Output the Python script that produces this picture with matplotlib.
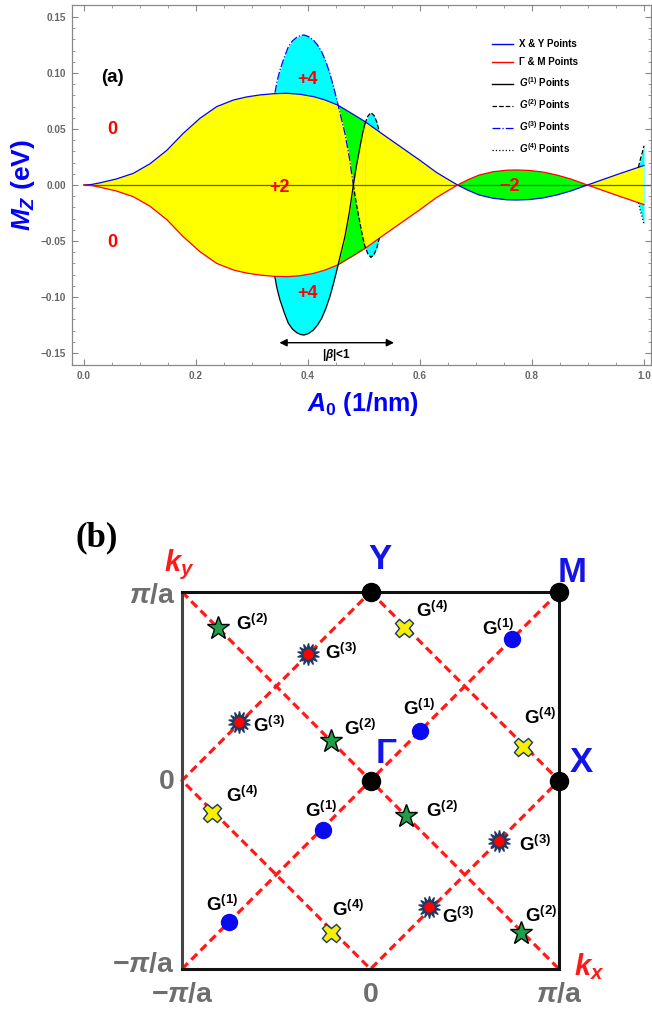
import matplotlib
matplotlib.use('Agg')
import matplotlib.pyplot as plt
import numpy as np
from matplotlib.lines import Line2D

plt.rcParams['font.family'] = ['Liberation Sans', 'DejaVu Sans']
plt.rcParams['font.weight'] = 'bold'
plt.rcParams['axes.labelweight'] = 'bold'
plt.rcParams['mathtext.fontset'] = 'custom'
plt.rcParams['mathtext.rm'] = 'Liberation Sans:bold'
plt.rcParams['mathtext.it'] = 'Liberation Sans:bold:italic'
plt.rcParams['mathtext.bf'] = 'Liberation Sans:bold'

# ---------- panel (a) data ----------
a0 = np.array([0.0, 0.014, 0.029, 0.058, 0.088, 0.118, 0.148, 0.177, 0.207, 0.237, 0.267,
               0.29, 0.314, 0.338, 0.362, 0.386, 0.41, 0.43, 0.453, 0.481, 0.5018, 0.54,
               0.6, 0.63, 0.667, 0.685, 0.705, 0.73, 0.755, 0.773, 0.795, 0.82, 0.845,
               0.87, 0.899, 0.95, 1.0])
m_xy = np.array([0.0, 0.0005, 0.002, 0.0054, 0.0104, 0.019, 0.031, 0.046, 0.0595, 0.070, 0.0759,
                 0.0786, 0.0804, 0.0815, 0.0819, 0.0810, 0.0789, 0.076, 0.0714, 0.063, 0.0566, 0.043,
                 0.022, 0.011, 0.0, -0.0045, -0.0088, -0.0118, -0.0132, -0.0134, -0.013, -0.0115, -0.0088,
                 -0.0052, 0.0, 0.009, 0.0175])
m_gm = np.array([0.0, -0.0005, -0.002, -0.0054, -0.0104, -0.019, -0.031, -0.046, -0.0595, -0.070, -0.0759,
                 -0.0786, -0.0804, -0.0815, -0.0819, -0.0810, -0.0789, -0.076, -0.0714, -0.063, -0.0566, -0.043,
                 -0.022, -0.011, 0.0, 0.0045, 0.0088, 0.0118, 0.0132, 0.0134, 0.013, 0.0115, 0.0088,
                 0.0052, 0.0, -0.009, -0.0175])

# G-point gap closing curves (|beta|<1 window)
a_g = np.array([0.341, 0.3445, 0.350, 0.358, 0.365, 0.372, 0.380, 0.387, 0.393, 0.401, 0.4095,
                0.417, 0.4244, 0.432, 0.439, 0.446, 0.453, 0.466, 0.474, 0.481, 0.4865,
                0.4929, 0.4975, 0.5018, 0.507, 0.5125, 0.518, 0.5226, 0.5273])
m_g3 = np.array([0.0824, 0.092, 0.1027, 0.1145, 0.1235, 0.1285, 0.1319, 0.1335, 0.1339, 0.1325, 0.1295,
                 0.125, 0.119, 0.110, 0.0997, 0.087, 0.0729, 0.046, 0.024, 0.0, -0.017,
                 -0.0342, -0.046, -0.055, -0.0615, -0.0646, -0.062, -0.0566, -0.0476])
m_g1 = np.array([-0.0824, -0.092, -0.1027, -0.1145, -0.1235, -0.1285, -0.1319, -0.1335, -0.1339, -0.1325, -0.1295,
                 -0.125, -0.119, -0.110, -0.0997, -0.087, -0.0729, -0.046, -0.024, 0.0, 0.017,
                 0.0342, 0.046, 0.055, 0.0615, 0.0646, 0.062, 0.0566, 0.0476])

# curves just appearing at the right edge
a_e = np.array([0.990, 0.994, 0.997, 1.0])
m_e_up = np.array([0.0158, 0.024, 0.029, 0.035])
m_e_dn = np.array([-0.0158, -0.024, -0.029, -0.035])

chern_text = ['0', '0', '+2', '+4', '+4', '\u22122']
chern_a = [0.05, 0.05, 0.35, 0.40, 0.40, 0.759]
chern_m = [0.0494, -0.0513, -0.0018, 0.0938, -0.0966, -0.001]

beta_from, beta_to = 0.349, 0.5536

xticks = [0.0, 0.2, 0.4, 0.6, 0.8, 1.0]
xticklabels = ['0.0', '0.2', '0.4', '0.6', '0.8', '1.0']
yticks = [-0.15, -0.10, -0.05, 0.0, 0.05, 0.10, 0.15]
yticklabels = ['\u22120.15', '\u22120.10', '\u22120.05', '0.00', '0.05', '0.10', '0.15']

# ---------- panel (b) data ----------
sym_x = [0, 1, 1, 0]
sym_y = [1, 1, 0, 0]
sym_names = ['Y', 'M', 'X', '\u0393']
g1_x = [0.75, 0.26, -0.25, -0.75]
g1_y = [0.75, 0.26, -0.26, -0.75]
g2_x = [-0.81, -0.21, 0.19, 0.80]
g2_y = [0.81, 0.21, -0.19, -0.81]
g3_x = [-0.33, -0.70, 0.68, 0.31]
g3_y = [0.67, 0.31, -0.32, -0.67]
g4_x = [0.18, 0.81, -0.84, -0.21]
g4_y = [0.81, 0.18, -0.17, -0.81]
diag1_x, diag1_y = [-1, 1], [-1, 1]
diag2_x, diag2_y = [-1, 1], [1, -1]
diamond_x = [0, 1, 0, -1, 0]
diamond_y = [1, 0, -1, 0, 1]
k_ticks = [-1, 0, 1]
k_labels = ['\u2212$\\pi$/a', '0', '$\\pi$/a']

# label anchors (left edge of G, centre of G)
g1_lab = [(0.593, 0.807), (0.175, 0.381), (-0.345, -0.16), (-0.875, -0.656)]
g2_lab = [(-0.712, 0.833), (-0.143, 0.275), (0.292, -0.16), (0.817, -0.718)]
g3_lab = [(-0.242, 0.682), (-0.621, 0.293), (0.79, -0.337), (0.38, -0.723)]
g4_lab = [(0.239, 0.904), (0.812, 0.337), (-0.766, -0.08), (-0.203, -0.682)]
sym_lab = [(0.053, 1.17), (1.072, 1.106), (1.119, 0.096), (0.08, 0.144)]

W, H = 652, 1009
fig = plt.figure(figsize=(W / 100, H / 100), dpi=100)

# ================= panel (a) =================
ax = fig.add_axes([72 / W, 1 - 365 / H, (651 - 72) / W, 360 / H])
yellow, cyan, green = '#FFFF00', '#00FFFF', '#00FF00'

ax.fill_between(a_g, m_g1, m_g3, color=cyan, lw=0, zorder=1)
ax.fill_between(a_e, m_e_dn, m_e_up, color=cyan, lw=0, zorder=1)
ax.fill_between(a0, m_gm, m_xy, where=m_xy >= m_gm, interpolate=True, color=yellow, lw=0, zorder=1.1)
ax.fill_between(a0, m_gm, m_xy, where=m_gm >= m_xy, interpolate=True, color=green, lw=0, zorder=1.1)
lens = (a0 >= 0.453) & (a0 <= 0.5018)
ax.fill_between(a0, m_gm, m_xy, where=lens, color=green, lw=0, zorder=1.2)
lens_g = (a_g >= 0.453) & (a_g <= 0.5018)
ax.fill_between(a_g, m_g1, m_g3, where=lens_g, color=yellow, ec=yellow, lw=0.4, zorder=1.3)

ax.hlines(0, 0, 1.0125, color='#555555', lw=0.9, zorder=2)

ax.plot(a0, m_xy, color='#0000FF', lw=0.9, zorder=3)
ax.plot(a0, m_gm, color='#FF0000', lw=0.9, zorder=3)
# G curves
k0 = 19  # zero crossing index
k1 = 23  # where G1 meets X&Y curve
ax.plot(a_g[:k0 + 1], m_g3[:k0 + 1], color='#0000FF', lw=0.9, ls='-.', zorder=3.2)
ax.plot(a_g[k0:], m_g3[k0:], color='black', lw=0.9, ls='--', zorder=3.2)
ax.plot(a_g[:k1 + 1], m_g1[:k1 + 1], color='black', lw=0.9, zorder=3.2)
ax.plot(a_g[k1:], m_g1[k1:], color='black', lw=0.9, ls='--', zorder=3.2)
ax.plot(a_e, m_e_up, color='black', lw=0.9, ls='--', zorder=3.2)
ax.plot(a_e, m_e_dn, color='black', lw=0.9, ls=':', zorder=3.2)

for t, x, y in zip(chern_text, chern_a, chern_m):
    ax.text(x, y, t, color='#FF0000', fontsize=13, ha='center', va='center', zorder=4)
ax.text(0.05, 0.0964, '(a)', color='black', fontsize=13.5, ha='center', va='center')

ax.annotate('', xy=(beta_from, -0.1408), xytext=(beta_to, -0.1408),
            arrowprops=dict(arrowstyle='<|-|>', color='black', lw=1.0, mutation_scale=11,
                            shrinkA=0, shrinkB=0))
ax.text((beta_from + beta_to) / 2, -0.152, r'$|\beta|$<1', fontsize=8.5,
        ha='center', va='center')

handles = [Line2D([], [], color='#0000FF', lw=1),
           Line2D([], [], color='#FF0000', lw=1),
           Line2D([], [], color='black', lw=1),
           Line2D([], [], color='black', lw=0.9, ls='--'),
           Line2D([], [], color='#0000FF', lw=0.9, ls='-.'),
           Line2D([], [], color='black', lw=0.9, ls=':')]
labels = ['X & Y Points', '\u0393 & M Points', r'$G^{(1)}$ Points', r'$G^{(2)}$ Points',
          r'$G^{(3)}$ Points', r'$G^{(4)}$ Points']
ax.legend(handles, labels, loc='upper left', bbox_to_anchor=(0.71, 0.93), frameon=False,
          fontsize=7, handlelength=2.2, handletextpad=0.6, labelspacing=0.85)

ax.set_xlim(-0.0214, 1.0125)
ax.set_ylim(-0.1607, 0.1607)
ax.set_xticks(xticks)
ax.set_xticklabels(xticklabels)
ax.set_yticks(yticks)
ax.set_yticklabels(yticklabels)
ax.set_xticks(np.arange(0, 1.01, 0.05), minor=True)
ax.set_yticks(np.arange(-0.15, 0.151, 0.01), minor=True)
ax.tick_params(which='both', direction='in', top=True, right=True, color='#888888',
               labelcolor='#666666', labelsize=7.2)
ax.tick_params(which='major', length=4.5, width=0.8, pad=4)
ax.tick_params(which='minor', length=2.5, width=0.6)
for s in ax.spines.values():
    s.set_color('#888888')
    s.set_linewidth(0.9)

ax.set_xlabel(r'$A_0$ (1/nm)', color='#0000FF', fontsize=18)
ax.xaxis.set_label_coords(0.5026, -0.07)
ax.set_ylabel(r'$M_Z$ (eV)', color='#0000FF', fontsize=19)
ax.yaxis.set_label_coords(-0.06, 0.5)

# ================= panel (b) =================
bx = fig.add_axes([182 / W, 1 - 969 / H, 377 / W, 377 / H])
bx.set_xlim(-1, 1)
bx.set_ylim(-1, 1)
red_dash = dict(color='#FF1A1A', lw=2.3, dashes=(2.6, 1.5), clip_on=False, zorder=2)
bx.plot(diag1_x, diag1_y, **red_dash)
bx.plot(diag2_x, diag2_y, **red_dash)
bx.plot(diamond_x, diamond_y, **red_dash)

bx.plot(sym_x, sym_y, 'o', color='black', ms=13, ls='none', clip_on=False, zorder=5)
bx.plot(g1_x, g1_y, 'o', color='#0A0AF0', ms=11.5, ls='none', zorder=5)
bx.plot(g2_x, g2_y, '*', mfc='#1EA04A', mec='black', mew=1.0, ms=17, ls='none', zorder=5)
bx.plot(g3_x, g3_y, marker=(14, 1, 0), color='#1F3864', ms=16, ls='none', zorder=5)
bx.plot(g3_x, g3_y, 'o', color='#FF0000', ms=6.5, ls='none', zorder=6)
bx.plot(g4_x, g4_y, 'X', mfc='#F8F000', mec='#1F3864', mew=1.0, ms=13, ls='none', zorder=5)

for labs, n in [(g1_lab, 1), (g2_lab, 2), (g3_lab, 3), (g4_lab, 4)]:
    for x, y in labs:
        bx.text(x, y - 0.035, r'$\mathbf{G}^{\mathbf{(%d)}}$' % n, fontsize=13.5,
                ha='left', va='baseline', color='black', zorder=7)
for (x, y), name in zip(sym_lab, sym_names):
    bx.text(x, y, name, color='#1414E6', fontsize=25, ha='center', va='center', clip_on=False)

bx.text(-1.013, 1.144, r'$k_y$', color='#FF1A1A', fontsize=21, ha='center', va='center')
bx.text(1.16, -0.985, r'$k_x$', color='#FF1A1A', fontsize=21, ha='center', va='center')
bx.text(-1.454, 1.287, '(b)', family='Liberation Serif', fontsize=25, ha='center', va='center')

# axis numbers of the zone, placed by hand like the original drawing
bx.set_xticks([])
bx.set_yticks([])
tick_style = dict(fontsize=20.5, color='#6E6E6E', clip_on=False)
for v, lab in zip(k_ticks, k_labels):
    yy = -0.98 if v == -1 else (0.98 if v == 1 else -0.01)
    bx.text(-1.037, yy, lab, ha='right', va='center', **tick_style)
    bx.text(v, -1.14, lab, ha='center', va='center', **tick_style)
for s in bx.spines.values():
    s.set_color('#111111')
    s.set_linewidth(2.2)
bx.spines['left'].set_color('#444444')

fig.savefig('out.png', dpi=100)
